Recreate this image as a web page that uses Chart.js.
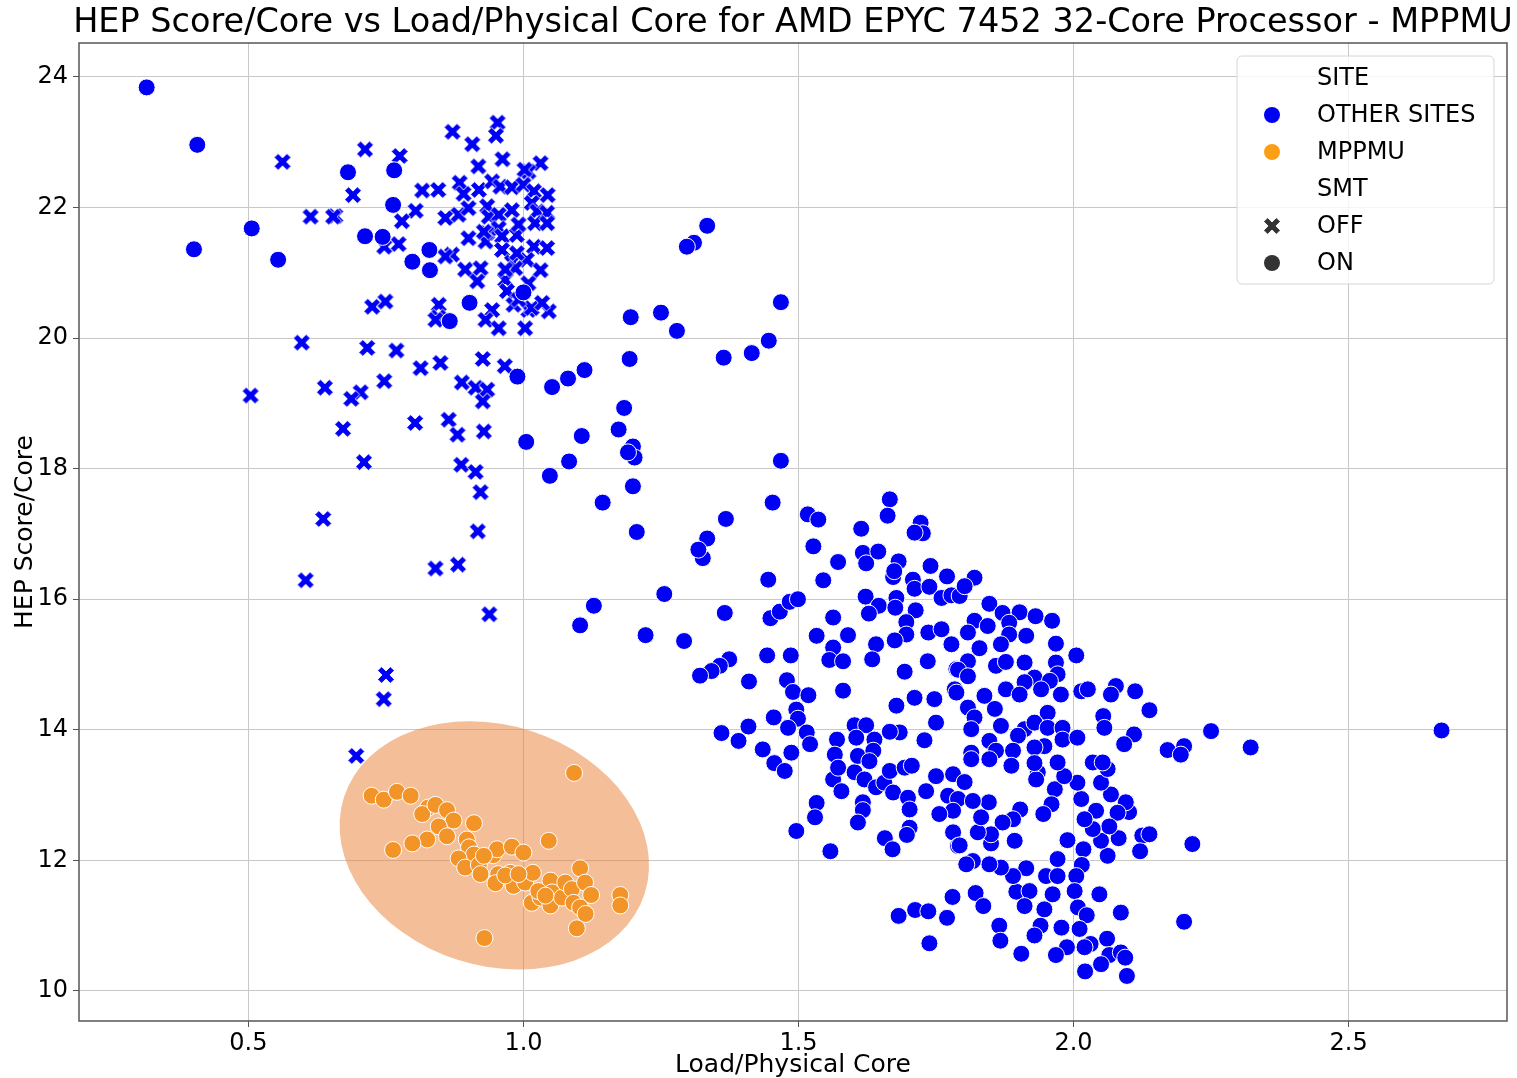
<!DOCTYPE html>
<html>
<head>
<meta charset="utf-8">
<script src="https://cdn.jsdelivr.net/npm/chart.js@4.4.1/dist/chart.umd.min.js"></script>
<style>
  html, body { margin: 0; background: #fff; }
  #wrap { width: 1517px; height: 1078px; }
</style>
</head>
<body>
<div id="wrap"><canvas id="chart"></canvas></div>
<script>
// ─── Data: [load per physical core, HEP score per core] ───
const xTicks = [0.5, 1.0, 1.5, 2.0, 2.5];
const yTicks = [10, 12, 14, 16, 18, 20, 22, 24];

// other sites, SMT off
const otherOff = [
  [0.712,22.89],[0.775,22.79],[0.690,22.19],[0.871,23.16],[0.907,22.97],[0.953,23.30],[0.950,23.10],[0.962,22.74],
  [0.918,22.63],[1.031,22.68],[1.009,22.55],[1.002,22.58],[0.816,22.26],[0.845,22.27],[0.884,22.38],[0.919,22.27],
  [0.891,22.21],[0.943,22.40],[0.958,22.32],[0.979,22.31],[1.000,22.35],[1.019,22.25],[1.044,22.19],[0.658,21.87],
  [0.804,21.95],[0.779,21.79],[0.858,21.84],[0.882,21.89],[0.900,21.99],[0.934,22.02],[0.937,21.86],[0.955,21.89],
  [0.979,21.96],[1.015,22.07],[1.025,21.94],[1.043,21.92],[1.021,21.76],[1.043,21.76],[0.773,21.44],[0.747,21.40],
  [0.900,21.53],[0.934,21.61],[0.931,21.48],[0.955,21.68],[0.961,21.56],[0.988,21.58],[0.991,21.74],[1.019,21.40],
  [1.043,21.38],[0.961,21.35],[0.979,21.16],[1.006,21.20],[1.031,21.04],[0.870,21.28],[0.858,21.25],[0.894,21.05],
  [0.922,21.07],[0.916,20.87],[0.967,20.89],[0.970,20.72],[0.982,20.51],[1.009,20.43],[1.015,20.46],[1.046,20.41],
  [0.943,20.43],[0.931,20.28],[0.955,20.15],[1.003,20.15],[0.846,20.51],[0.845,20.32],[0.840,20.28],[0.725,20.48],
  [0.749,20.56],[0.562,22.70],[0.613,21.86],[0.654,21.86],[0.928,21.63],[0.988,21.30],[0.985,21.07],[0.967,21.05],
  [1.009,20.84],[1.034,20.54],[0.991,20.59],
  [0.504,19.12],[0.597,19.93],[0.716,19.85],[0.769,19.81],[0.813,19.54],[0.849,19.62],[0.926,19.68],[0.966,19.57],
  [0.639,19.24],[0.704,19.17],[0.687,19.07],[0.747,19.34],[0.888,19.32],[0.913,19.24],[0.934,19.21],[0.926,19.03],
  [0.672,18.61],[0.803,18.70],[0.864,18.75],[0.880,18.52],[0.928,18.57],[0.710,18.10],[0.887,18.06],[0.913,17.95],
  [0.922,17.64],[0.636,17.23],[0.917,17.04],[0.881,16.53],[0.840,16.47],[0.604,16.29],[0.938,15.77],[0.750,14.84],
  [0.746,14.47],[0.696,13.60]
];

// other sites, SMT on
const otherOn = [
  [0.315,23.84],[0.407,22.96],[0.681,22.54],[0.765,22.57],[0.763,22.04],[0.506,21.68],[0.401,21.36],[0.554,21.20],
  [0.712,21.56],[0.744,21.55],[0.829,21.35],[0.798,21.17],[0.830,21.04],[0.866,20.26],[0.902,20.54],[1.000,20.70],
  [0.989,19.41],
  [1.334,21.72],[1.310,21.46],[1.297,21.40],[1.468,20.55],[1.195,20.32],[1.250,20.39],[1.279,20.11],[1.193,19.68],
  [1.364,19.70],[1.415,19.77],[1.446,19.96],[1.052,19.25],[1.081,19.38],[1.111,19.51],[1.183,18.93],[1.173,18.60],
  [1.199,18.34],[1.202,18.17],[1.190,18.25],[1.106,18.50],[1.005,18.41],[1.083,18.11],[1.048,17.89],[1.468,18.12],
  [1.199,17.73],[1.144,17.48],[1.453,17.48],[1.206,17.03],[1.368,17.23],[1.334,16.93],[1.326,16.63],[1.318,16.76],
  [1.445,16.30],[1.256,16.08],[1.128,15.90],[1.103,15.60],[1.222,15.45],[1.292,15.36],[1.366,15.79],[1.449,15.71],
  [1.466,15.81],[1.484,15.96],[1.499,16.00],
  [1.517,17.30],[1.536,17.22],[1.666,17.53],[1.662,17.28],[1.614,17.08],[1.722,17.17],[1.726,17.01],[1.711,17.02],
  [1.527,16.81],[1.617,16.71],[1.645,16.73],[1.623,16.55],[1.572,16.57],[1.545,16.29],[1.682,16.58],[1.672,16.34],
  [1.674,16.43],[1.708,16.30],[1.711,16.16],[1.740,16.51],[1.738,16.19],[1.770,16.35],[1.622,16.04],[1.678,16.02],
  [1.646,15.90],[1.676,15.87],[1.628,15.78],[1.713,15.83],[1.760,16.02],[1.778,16.06],[1.793,16.05],[1.563,15.72],
  [1.533,15.44],[1.590,15.45],[1.563,15.26],[1.556,15.07],[1.581,15.05],[1.641,15.31],[1.634,15.08],[1.696,15.65],
  [1.696,15.46],[1.675,15.37],[1.736,15.49],[1.760,15.54],[1.778,15.31],[1.735,15.05],[1.693,14.89],[1.787,14.93],
  [1.443,15.14],[1.486,15.14],[1.374,15.08],[1.357,14.98],[1.342,14.90],[1.321,14.83],[1.410,14.74],[1.479,14.76],
  [1.490,14.58],[1.518,14.53],[1.581,14.60],[1.496,14.31],[1.499,14.17],[1.481,14.03],[1.455,14.19],[1.409,14.05],
  [1.360,13.95],[1.391,13.83],[1.435,13.70],[1.487,13.65],[1.515,13.96],[1.521,13.78],[1.570,13.85],[1.602,14.07],
  [1.623,14.07],[1.605,13.88],[1.638,13.85],[1.684,13.96],[1.666,13.97],[1.678,14.37],[1.711,14.49],[1.747,14.47],
  [1.750,14.11],[1.729,13.84],[1.784,14.62],
  [1.820,16.33],[1.802,16.20],[1.847,15.93],[1.871,15.79],[1.902,15.80],[1.931,15.74],[1.961,15.67],[1.820,15.67],
  [1.844,15.59],[1.883,15.64],[1.808,15.49],[1.914,15.44],[1.883,15.46],[1.829,15.25],[1.868,15.31],[1.968,15.32],
  [2.005,15.14],[1.808,15.05],[1.859,14.98],[1.877,15.04],[1.911,15.03],[1.968,15.03],[1.790,14.92],[1.808,14.82],
  [1.929,14.80],[1.971,14.85],[1.911,14.73],[1.957,14.75],[1.787,14.57],[1.838,14.52],[1.877,14.62],[1.902,14.54],
  [1.941,14.62],[1.977,14.54],[2.014,14.59],[2.026,14.62],[2.077,14.67],[2.068,14.54],[2.112,14.59],[2.138,14.30],
  [2.054,14.21],[2.056,14.03],[2.110,13.93],[2.092,13.78],[2.250,13.98],[2.322,13.73],[2.171,13.69],[2.201,13.75],
  [2.195,13.62],[1.808,14.34],[1.857,14.32],[1.820,14.19],[1.868,14.06],[1.814,14.01],[1.953,14.26],[1.911,14.01],
  [1.929,14.11],[1.953,14.03],[1.980,14.03],[1.980,13.85],[2.007,13.88],[1.847,13.83],[1.899,13.91],[1.814,13.65],
  [1.859,13.68],[1.890,13.68],[1.947,13.75],[1.929,13.73],
  [1.456,13.49],[1.475,13.37],[1.566,13.62],[1.563,13.24],[1.578,13.06],[1.572,13.42],[1.602,13.35],[1.608,13.60],
  [1.636,13.68],[1.629,13.52],[1.620,13.24],[1.641,13.12],[1.656,13.19],[1.666,13.37],[1.693,13.42],[1.706,13.45],
  [1.672,13.04],[1.699,12.96],[1.702,12.78],[1.732,13.06],[1.750,13.29],[1.781,13.32],[1.772,12.99],[1.790,12.94],
  [1.781,12.76],[1.756,12.71],[1.781,12.43],[1.790,12.22],[1.533,12.88],[1.530,12.66],[1.496,12.45],[1.558,12.14],
  [1.617,12.89],[1.617,12.77],[1.608,12.58],[1.657,12.34],[1.671,12.17],[1.702,12.50],[1.697,12.39],[1.780,11.44],
  [1.682,11.15],[1.712,11.24],[1.736,11.22],[1.770,11.12],[1.738,10.73],
  [2.216,12.25],[2.201,11.06],[2.125,12.38],[2.138,12.40],[2.121,12.14],[2.101,12.74],[2.095,12.89],[2.080,12.73],
  [2.082,12.34],[2.062,12.07],[2.050,12.30],[2.065,12.52],[2.068,13.01],[2.050,13.19],[2.035,13.50],[2.062,13.40],
  [2.053,13.50],[2.041,12.76],[2.035,12.48],[2.020,12.63],[2.014,12.94],[2.007,13.19],[2.018,12.17],[1.989,12.31],
  [2.015,11.93],[2.005,11.76],[2.002,11.53],[2.008,11.28],[2.024,11.16],[2.011,10.95],[2.047,11.48],[2.086,11.20],
  [2.061,10.80],[2.031,10.72],[2.020,10.67],[2.065,10.55],[2.050,10.41],[2.086,10.59],[2.094,10.51],[2.097,10.23],
  [2.021,10.30],[1.988,10.67],[1.968,10.55],[1.905,10.57],[1.978,10.97],[1.940,11.00],[1.929,10.85],[1.865,11.00],
  [1.867,10.77],[1.822,11.50],[1.836,11.30],[1.896,11.52],[1.920,11.53],[1.911,11.30],[1.947,11.25],[1.962,11.48],
  [1.950,11.76],[1.971,11.76],[1.971,12.02],[1.914,11.88],[1.890,11.76],[1.868,11.89],[1.847,11.94],[1.817,11.99],
  [1.805,11.94],[1.966,13.09],[1.960,12.86],[1.945,12.71],[1.983,13.29],[1.971,13.50],[1.935,13.35],[1.932,13.24],
  [1.929,13.49],[1.903,12.78],[1.890,12.63],[1.871,12.58],[1.893,12.30],[1.850,12.26],[1.850,12.40],[1.826,12.43],
  [1.832,12.66],[1.846,12.89],[1.793,12.23],[1.802,13.20],[1.817,12.91],[1.814,13.55],[1.847,13.55],[1.887,13.45],
  [2.669,13.99]
];

// MPPMU, SMT on
const mppmuOn = [
  [1.092,13.34],[0.724,12.99],[0.746,12.93],[0.770,13.05],[0.795,12.99],[0.827,12.81],[0.816,12.71],[0.840,12.85],
  [0.861,12.77],[0.873,12.61],[0.910,12.57],[0.846,12.52],[0.861,12.37],[0.825,12.32],[0.798,12.26],[0.763,12.16],
  [0.897,12.32],[0.901,12.20],[0.910,12.09],[0.882,12.03],[0.894,11.89],[0.919,11.93],[0.922,11.79],[0.945,12.08],
  [0.952,12.17],[0.979,12.21],[1.000,12.12],[1.046,12.30],[0.954,11.79],[0.949,11.65],[0.976,11.81],[0.982,11.61],
  [1.003,11.66],[1.017,11.81],[1.015,11.35],[1.031,11.43],[1.049,11.69],[1.052,11.51],[1.049,11.31],[1.070,11.43],
  [1.076,11.66],[1.088,11.56],[1.091,11.35],[1.103,11.88],[1.112,11.66],[1.123,11.47],[1.103,11.28],[1.113,11.18],
  [1.097,10.96],[1.176,11.47],[1.176,11.31],[0.929,10.81],[0.928,12.07],[0.967,11.77],[0.991,11.79],[1.027,11.53],
  [1.040,11.46]
];

// highlight ellipse around the MPPMU cluster (data units, tilt in screen degrees)
const mppmuCenter = [0.947, 12.23];
const mppmuRadius = [0.287, 1.84];
const mppmuTilt = 17.8;

const BLUE = '#0000f5';
const ORANGE = '#f29427';
const FONT = "'DejaVu Sans', sans-serif";

// filled "X" marker like seaborn's
function makeCross(color) {
  const s = 24, L = 9, t = 2.8;
  const c = document.createElement('canvas');
  c.width = s; c.height = s;
  const g = c.getContext('2d');
  g.translate(s / 2, s / 2);
  g.rotate(Math.PI / 4);
  g.beginPath();
  [[-t,-L],[t,-L],[t,-t],[L,-t],[L,t],[t,t],[t,L],[-t,L],[-t,t],[-L,t],[-L,-t],[-t,-t]]
    .forEach(([px, py], i) => i ? g.lineTo(px, py) : g.moveTo(px, py));
  g.closePath();
  g.fillStyle = color;
  g.fill();
  g.strokeStyle = '#fff';
  g.lineWidth = 0.8;
  g.stroke();
  return c;
}

const toPts = arr => arr.map(([x, y]) => ({ x, y }));

// ─── Plugins ───
const ellipsePlugin = {
  id: 'mppmuEllipse',
  beforeDatasetsDraw(chart) {
    const { ctx, scales: { x, y } } = chart;
    const cx = x.getPixelForValue(mppmuCenter[0]);
    const cy = y.getPixelForValue(mppmuCenter[1]);
    const rx = x.getPixelForValue(mppmuCenter[0] + mppmuRadius[0]) - cx;
    const ry = cy - y.getPixelForValue(mppmuCenter[1] + mppmuRadius[1]);
    ctx.save();
    ctx.beginPath();
    ctx.ellipse(cx, cy, rx, ry, mppmuTilt * Math.PI / 180, 0, Math.PI * 2);
    ctx.fillStyle = 'rgba(231,125,50,0.5)';
    ctx.fill();
    ctx.restore();
  }
};

const framePlugin = {
  id: 'frame',
  afterDatasetsDraw(chart) {
    const { ctx, chartArea: a } = chart;
    ctx.save();
    ctx.strokeStyle = '#555';
    ctx.lineWidth = 1.5;
    ctx.strokeRect(a.left, a.top, a.right - a.left, a.bottom - a.top);
    ctx.restore();
  }
};

const titlePlugin = {
  id: 'plotTitle',
  afterDraw(chart) {
    const { ctx, chartArea: a } = chart;
    ctx.save();
    ctx.font = `33.5px ${FONT}`;
    ctx.fillStyle = '#000';
    ctx.textAlign = 'center';
    ctx.textBaseline = 'middle';
    ctx.fillText('HEP Score/Core vs Load/Physical Core for AMD EPYC 7452 32-Core Processor - MPPMU',
      (a.left + a.right) / 2, 23);
    ctx.restore();
  }
};

const legendPlugin = {
  id: 'siteLegend',
  afterDraw(chart) {
    const { ctx, chartArea: a } = chart;
    const x0 = a.right - 270, y0 = a.top + 13, w = 257, h = 228;
    ctx.save();
    ctx.beginPath();
    ctx.roundRect(x0, y0, w, h, 5);
    ctx.fillStyle = 'rgba(255,255,255,0.8)';
    ctx.fill();
    ctx.strokeStyle = '#d6d6d6';
    ctx.lineWidth = 1;
    ctx.stroke();

    const rows = [
      { text: 'SITE' },
      { text: 'OTHER SITES', marker: 'circle', color: BLUE },
      { text: 'MPPMU', marker: 'circle', color: '#fb9f16' },
      { text: 'SMT' },
      { text: 'OFF', marker: 'cross', color: '#333' },
      { text: 'ON', marker: 'circle', color: '#333' }
    ];
    ctx.font = `24px ${FONT}`;
    ctx.textBaseline = 'middle';
    ctx.textAlign = 'left';
    rows.forEach((r, i) => {
      const cy = y0 + 22 + i * 37;
      if (r.marker === 'circle') {
        ctx.beginPath();
        ctx.arc(x0 + 35, cy, 8, 0, Math.PI * 2);
        ctx.fillStyle = r.color;
        ctx.fill();
      } else if (r.marker === 'cross') {
        const img = makeCross(r.color);
        ctx.drawImage(img, x0 + 35 - img.width / 2, cy - img.height / 2);
      }
      ctx.fillStyle = '#000';
      ctx.fillText(r.text, x0 + 80, cy + 1);
    });
    ctx.restore();
  }
};

Chart.defaults.font.family = FONT;

new Chart(document.getElementById('chart'), {
  type: 'scatter',
  data: {
    datasets: [
      {
        label: 'OTHER SITES / OFF',
        data: toPts(otherOff),
        pointStyle: makeCross(BLUE),
        order: 3
      },
      {
        label: 'OTHER SITES / ON',
        data: toPts(otherOn),
        pointStyle: 'circle',
        pointRadius: 8.5,
        backgroundColor: BLUE,
        borderColor: '#fff',
        borderWidth: 1,
        order: 2
      },
      {
        label: 'MPPMU / ON',
        data: toPts(mppmuOn),
        pointStyle: 'circle',
        pointRadius: 8.5,
        backgroundColor: ORANGE,
        borderColor: '#fff',
        borderWidth: 1,
        order: 1
      }
    ]
  },
  options: {
    responsive: true,
    maintainAspectRatio: false,
    animation: false,
    events: [],
    layout: { padding: { top: 43, right: 10, left: 0, bottom: 0 } },
    plugins: {
      legend: { display: false },
      tooltip: { enabled: false }
    },
    scales: {
      x: {
        type: 'linear',
        min: 0.192,
        max: 2.788,
        afterBuildTicks: s => { s.ticks = xTicks.map(v => ({ value: v })); },
        afterFit: s => { s.height = 57; },
        ticks: { callback: v => v.toFixed(1), color: '#000', font: { size: 24 }, padding: 2 },
        grid: { color: '#c8c8c8', lineWidth: 1, tickColor: '#555', tickLength: 6 },
        border: { display: false },
        title: { display: true, text: 'Load/Physical Core', color: '#000', font: { size: 25 }, padding: { top: 0, bottom: -2 } }
      },
      y: {
        type: 'linear',
        min: 9.54,
        max: 24.52,
        afterBuildTicks: s => { s.ticks = yTicks.map(v => ({ value: v })); },
        afterFit: s => { s.width = 79; },
        ticks: { color: '#000', font: { size: 24 }, padding: 5 },
        grid: { color: '#c8c8c8', lineWidth: 1, tickColor: '#555', tickLength: 6 },
        border: { display: false },
        title: { display: true, text: 'HEP Score/Core', color: '#000', font: { size: 25 }, padding: { top: 10, bottom: 0 } }
      }
    }
  },
  plugins: [ellipsePlugin, framePlugin, titlePlugin, legendPlugin]
});
</script>
</body>
</html>
